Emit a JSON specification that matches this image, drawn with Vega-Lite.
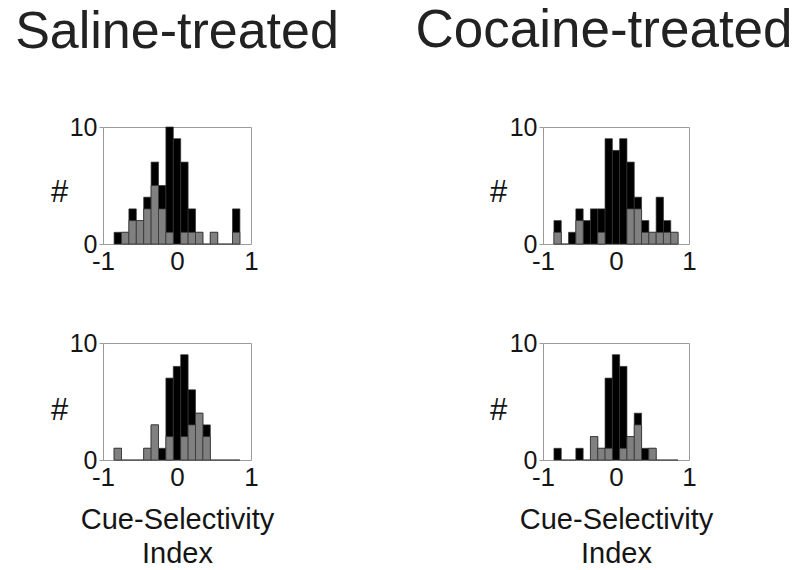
{
  "$schema": "https://vega.github.io/schema/vega-lite/v6.json",
  "background": "white",
  "padding": {"left": 14, "top": 4, "right": 5, "bottom": 5},
  "config": {
    "font": "Liberation Sans",
    "view": {"stroke": "#9a9a9a", "strokeWidth": 1},
    "axis": {"grid": false, "domain": false, "labelFont": "Liberation Sans", "titleFont": "Liberation Sans", "labelColor": "#151515", "titleColor": "#151515", "titleFontWeight": "normal", "tickColor": "#9a9a9a"}
  },
  "datasets": {
    "hist": [
      {"panel": "S1", "set": "total", "bin_start": -0.85, "bin_end": -0.75, "count": 1},
      {"panel": "S1", "set": "total", "bin_start": -0.75, "bin_end": -0.65, "count": 1},
      {"panel": "S1", "set": "total", "bin_start": -0.65, "bin_end": -0.55, "count": 3},
      {"panel": "S1", "set": "total", "bin_start": -0.55, "bin_end": -0.45, "count": 2},
      {"panel": "S1", "set": "total", "bin_start": -0.45, "bin_end": -0.35, "count": 4},
      {"panel": "S1", "set": "total", "bin_start": -0.35, "bin_end": -0.25, "count": 7},
      {"panel": "S1", "set": "total", "bin_start": -0.25, "bin_end": -0.15, "count": 5},
      {"panel": "S1", "set": "total", "bin_start": -0.15, "bin_end": -0.05, "count": 10},
      {"panel": "S1", "set": "total", "bin_start": -0.05, "bin_end": 0.05, "count": 9},
      {"panel": "S1", "set": "total", "bin_start": 0.05, "bin_end": 0.15, "count": 7},
      {"panel": "S1", "set": "total", "bin_start": 0.15, "bin_end": 0.25, "count": 3},
      {"panel": "S1", "set": "total", "bin_start": 0.25, "bin_end": 0.35, "count": 1},
      {"panel": "S1", "set": "total", "bin_start": 0.35, "bin_end": 0.45, "count": 0},
      {"panel": "S1", "set": "total", "bin_start": 0.45, "bin_end": 0.55, "count": 1},
      {"panel": "S1", "set": "total", "bin_start": 0.55, "bin_end": 0.65, "count": 0},
      {"panel": "S1", "set": "total", "bin_start": 0.65, "bin_end": 0.75, "count": 0},
      {"panel": "S1", "set": "total", "bin_start": 0.75, "bin_end": 0.85, "count": 3},
      {"panel": "S1", "set": "subset", "bin_start": -0.75, "bin_end": -0.65, "count": 1},
      {"panel": "S1", "set": "subset", "bin_start": -0.65, "bin_end": -0.55, "count": 2},
      {"panel": "S1", "set": "subset", "bin_start": -0.55, "bin_end": -0.45, "count": 2},
      {"panel": "S1", "set": "subset", "bin_start": -0.45, "bin_end": -0.35, "count": 3},
      {"panel": "S1", "set": "subset", "bin_start": -0.35, "bin_end": -0.25, "count": 5},
      {"panel": "S1", "set": "subset", "bin_start": -0.25, "bin_end": -0.15, "count": 3},
      {"panel": "S1", "set": "subset", "bin_start": -0.15, "bin_end": -0.05, "count": 1},
      {"panel": "S1", "set": "subset", "bin_start": 0.05, "bin_end": 0.15, "count": 1},
      {"panel": "S1", "set": "subset", "bin_start": 0.15, "bin_end": 0.25, "count": 1},
      {"panel": "S1", "set": "subset", "bin_start": 0.25, "bin_end": 0.35, "count": 1},
      {"panel": "S1", "set": "subset", "bin_start": 0.45, "bin_end": 0.55, "count": 1},
      {"panel": "S1", "set": "subset", "bin_start": 0.75, "bin_end": 0.85, "count": 1},

      {"panel": "C1", "set": "total", "bin_start": -0.85, "bin_end": -0.75, "count": 2},
      {"panel": "C1", "set": "total", "bin_start": -0.75, "bin_end": -0.65, "count": 0},
      {"panel": "C1", "set": "total", "bin_start": -0.65, "bin_end": -0.55, "count": 1},
      {"panel": "C1", "set": "total", "bin_start": -0.55, "bin_end": -0.45, "count": 3},
      {"panel": "C1", "set": "total", "bin_start": -0.45, "bin_end": -0.35, "count": 2},
      {"panel": "C1", "set": "total", "bin_start": -0.35, "bin_end": -0.25, "count": 3},
      {"panel": "C1", "set": "total", "bin_start": -0.25, "bin_end": -0.15, "count": 3},
      {"panel": "C1", "set": "total", "bin_start": -0.15, "bin_end": -0.05, "count": 9},
      {"panel": "C1", "set": "total", "bin_start": -0.05, "bin_end": 0.05, "count": 8},
      {"panel": "C1", "set": "total", "bin_start": 0.05, "bin_end": 0.15, "count": 9},
      {"panel": "C1", "set": "total", "bin_start": 0.15, "bin_end": 0.25, "count": 7},
      {"panel": "C1", "set": "total", "bin_start": 0.25, "bin_end": 0.35, "count": 4},
      {"panel": "C1", "set": "total", "bin_start": 0.35, "bin_end": 0.45, "count": 2},
      {"panel": "C1", "set": "total", "bin_start": 0.45, "bin_end": 0.55, "count": 1},
      {"panel": "C1", "set": "total", "bin_start": 0.55, "bin_end": 0.65, "count": 4},
      {"panel": "C1", "set": "total", "bin_start": 0.65, "bin_end": 0.75, "count": 2},
      {"panel": "C1", "set": "total", "bin_start": 0.75, "bin_end": 0.85, "count": 1},
      {"panel": "C1", "set": "subset", "bin_start": -0.85, "bin_end": -0.75, "count": 1},
      {"panel": "C1", "set": "subset", "bin_start": -0.55, "bin_end": -0.45, "count": 2},
      {"panel": "C1", "set": "subset", "bin_start": -0.25, "bin_end": -0.15, "count": 1},
      {"panel": "C1", "set": "subset", "bin_start": 0.15, "bin_end": 0.25, "count": 3},
      {"panel": "C1", "set": "subset", "bin_start": 0.25, "bin_end": 0.35, "count": 3},
      {"panel": "C1", "set": "subset", "bin_start": 0.35, "bin_end": 0.45, "count": 1},
      {"panel": "C1", "set": "subset", "bin_start": 0.45, "bin_end": 0.55, "count": 1},
      {"panel": "C1", "set": "subset", "bin_start": 0.55, "bin_end": 0.65, "count": 1},
      {"panel": "C1", "set": "subset", "bin_start": 0.65, "bin_end": 0.75, "count": 1},
      {"panel": "C1", "set": "subset", "bin_start": 0.75, "bin_end": 0.85, "count": 1},

      {"panel": "S2", "set": "total", "bin_start": -0.85, "bin_end": -0.75, "count": 1},
      {"panel": "S2", "set": "total", "bin_start": -0.75, "bin_end": -0.65, "count": 0},
      {"panel": "S2", "set": "total", "bin_start": -0.65, "bin_end": -0.55, "count": 0},
      {"panel": "S2", "set": "total", "bin_start": -0.55, "bin_end": -0.45, "count": 0},
      {"panel": "S2", "set": "total", "bin_start": -0.45, "bin_end": -0.35, "count": 1},
      {"panel": "S2", "set": "total", "bin_start": -0.35, "bin_end": -0.25, "count": 3},
      {"panel": "S2", "set": "total", "bin_start": -0.25, "bin_end": -0.15, "count": 1},
      {"panel": "S2", "set": "total", "bin_start": -0.15, "bin_end": -0.05, "count": 7},
      {"panel": "S2", "set": "total", "bin_start": -0.05, "bin_end": 0.05, "count": 8},
      {"panel": "S2", "set": "total", "bin_start": 0.05, "bin_end": 0.15, "count": 9},
      {"panel": "S2", "set": "total", "bin_start": 0.15, "bin_end": 0.25, "count": 6},
      {"panel": "S2", "set": "total", "bin_start": 0.25, "bin_end": 0.35, "count": 4},
      {"panel": "S2", "set": "total", "bin_start": 0.35, "bin_end": 0.45, "count": 3},
      {"panel": "S2", "set": "total", "bin_start": 0.45, "bin_end": 0.55, "count": 0},
      {"panel": "S2", "set": "total", "bin_start": 0.55, "bin_end": 0.65, "count": 0},
      {"panel": "S2", "set": "total", "bin_start": 0.65, "bin_end": 0.75, "count": 0},
      {"panel": "S2", "set": "total", "bin_start": 0.75, "bin_end": 0.85, "count": 0},
      {"panel": "S2", "set": "subset", "bin_start": -0.85, "bin_end": -0.75, "count": 1},
      {"panel": "S2", "set": "subset", "bin_start": -0.45, "bin_end": -0.35, "count": 1},
      {"panel": "S2", "set": "subset", "bin_start": -0.35, "bin_end": -0.25, "count": 3},
      {"panel": "S2", "set": "subset", "bin_start": -0.15, "bin_end": -0.05, "count": 2},
      {"panel": "S2", "set": "subset", "bin_start": 0.05, "bin_end": 0.15, "count": 2},
      {"panel": "S2", "set": "subset", "bin_start": 0.15, "bin_end": 0.25, "count": 3},
      {"panel": "S2", "set": "subset", "bin_start": 0.25, "bin_end": 0.35, "count": 4},
      {"panel": "S2", "set": "subset", "bin_start": 0.35, "bin_end": 0.45, "count": 2},

      {"panel": "C2", "set": "total", "bin_start": -0.85, "bin_end": -0.75, "count": 1},
      {"panel": "C2", "set": "total", "bin_start": -0.75, "bin_end": -0.65, "count": 0},
      {"panel": "C2", "set": "total", "bin_start": -0.65, "bin_end": -0.55, "count": 0},
      {"panel": "C2", "set": "total", "bin_start": -0.55, "bin_end": -0.45, "count": 1},
      {"panel": "C2", "set": "total", "bin_start": -0.45, "bin_end": -0.35, "count": 0},
      {"panel": "C2", "set": "total", "bin_start": -0.35, "bin_end": -0.25, "count": 2},
      {"panel": "C2", "set": "total", "bin_start": -0.25, "bin_end": -0.15, "count": 1},
      {"panel": "C2", "set": "total", "bin_start": -0.15, "bin_end": -0.05, "count": 7},
      {"panel": "C2", "set": "total", "bin_start": -0.05, "bin_end": 0.05, "count": 9},
      {"panel": "C2", "set": "total", "bin_start": 0.05, "bin_end": 0.15, "count": 8},
      {"panel": "C2", "set": "total", "bin_start": 0.15, "bin_end": 0.25, "count": 2},
      {"panel": "C2", "set": "total", "bin_start": 0.25, "bin_end": 0.35, "count": 4},
      {"panel": "C2", "set": "total", "bin_start": 0.35, "bin_end": 0.45, "count": 1},
      {"panel": "C2", "set": "total", "bin_start": 0.45, "bin_end": 0.55, "count": 1},
      {"panel": "C2", "set": "total", "bin_start": 0.55, "bin_end": 0.65, "count": 0},
      {"panel": "C2", "set": "total", "bin_start": 0.65, "bin_end": 0.75, "count": 0},
      {"panel": "C2", "set": "total", "bin_start": 0.75, "bin_end": 0.85, "count": 0},
      {"panel": "C2", "set": "subset", "bin_start": -0.35, "bin_end": -0.25, "count": 2},
      {"panel": "C2", "set": "subset", "bin_start": -0.25, "bin_end": -0.15, "count": 1},
      {"panel": "C2", "set": "subset", "bin_start": -0.15, "bin_end": -0.05, "count": 1},
      {"panel": "C2", "set": "subset", "bin_start": 0.05, "bin_end": 0.15, "count": 1},
      {"panel": "C2", "set": "subset", "bin_start": 0.15, "bin_end": 0.25, "count": 2},
      {"panel": "C2", "set": "subset", "bin_start": 0.25, "bin_end": 0.35, "count": 3},
      {"panel": "C2", "set": "subset", "bin_start": 0.45, "bin_end": 0.55, "count": 1}
    ]
  },
  "columns": 2,
  "spacing": {"row": 99, "column": 292},
  "bounds": "flush",
  "concat": [
    {
      "width": 148, "height": 117,
      "title": {"text": "Saline-treated", "fontSize": 52, "fontWeight": "normal", "color": "#222", "frame": "group", "anchor": "middle", "baseline": "alphabetic", "offset": 15},
      "data": {"name": "hist"},
      "transform": [{"filter": "datum.panel == 'S1'"}],
      "mark": {"type": "bar", "stroke": "#303030", "strokeWidth": 0.7},
      "encoding": {
        "x": {"field": "bin_start", "type": "quantitative", "scale": {"domain": [-1, 1], "nice": false}, "axis": {"values": [-1, 0, 1], "labelExpr": "'' + datum.value", "labelFontSize": 26, "labelFlush": false, "ticks": false, "labelPadding": 4, "title": null}},
        "x2": {"field": "bin_end"},
        "y": {"field": "count", "type": "quantitative", "scale": {"domain": [0, 10], "nice": false}, "axis": {"values": [0, 10], "labelFontSize": 25, "tickSize": 4, "labelPadding": 2, "title": "#", "titleFontSize": 31, "titleAngle": 0, "titleAlign": "center", "titleBaseline": "middle", "titleX": -44, "titleY": 65}},
        "y2": {"datum": 0},
        "color": {"field": "set", "type": "nominal", "scale": {"domain": ["total", "subset"], "range": ["#000000", "#808080"]}, "legend": null}
      }
    },
    {
      "width": 146, "height": 117,
      "title": {"text": "Cocaine-treated", "fontSize": 53, "fontWeight": "normal", "color": "#222", "frame": "group", "anchor": "middle", "baseline": "alphabetic", "offset": 15, "dx": -12},
      "data": {"name": "hist"},
      "transform": [{"filter": "datum.panel == 'C1'"}],
      "mark": {"type": "bar", "stroke": "#303030", "strokeWidth": 0.7},
      "encoding": {
        "x": {"field": "bin_start", "type": "quantitative", "scale": {"domain": [-1, 1], "nice": false}, "axis": {"values": [-1, 0, 1], "labelExpr": "'' + datum.value", "labelFontSize": 26, "labelFlush": false, "ticks": false, "labelPadding": 4, "title": null}},
        "x2": {"field": "bin_end"},
        "y": {"field": "count", "type": "quantitative", "scale": {"domain": [0, 10], "nice": false}, "axis": {"values": [0, 10], "labelFontSize": 25, "tickSize": 4, "labelPadding": 2, "title": "#", "titleFontSize": 31, "titleAngle": 0, "titleAlign": "center", "titleBaseline": "middle", "titleX": -45, "titleY": 65}},
        "y2": {"datum": 0},
        "color": {"field": "set", "type": "nominal", "scale": {"domain": ["total", "subset"], "range": ["#000000", "#808080"]}, "legend": null}
      }
    },
    {
      "width": 148, "height": 117,
      "data": {"name": "hist"},
      "transform": [{"filter": "datum.panel == 'S2'"}],
      "mark": {"type": "bar", "stroke": "#303030", "strokeWidth": 0.7},
      "encoding": {
        "x": {"field": "bin_start", "type": "quantitative", "scale": {"domain": [-1, 1], "nice": false}, "axis": {"values": [-1, 0, 1], "labelExpr": "'' + datum.value", "labelFontSize": 26, "labelFlush": false, "ticks": false, "labelPadding": 4, "title": ["Cue-Selectivity", "Index"], "titleFontSize": 29, "titleLineHeight": 34, "titlePadding": 15}},
        "x2": {"field": "bin_end"},
        "y": {"field": "count", "type": "quantitative", "scale": {"domain": [0, 10], "nice": false}, "axis": {"values": [0, 10], "labelFontSize": 25, "tickSize": 4, "labelPadding": 2, "title": "#", "titleFontSize": 31, "titleAngle": 0, "titleAlign": "center", "titleBaseline": "middle", "titleX": -44, "titleY": 67}},
        "y2": {"datum": 0},
        "color": {"field": "set", "type": "nominal", "scale": {"domain": ["total", "subset"], "range": ["#000000", "#808080"]}, "legend": null}
      }
    },
    {
      "width": 146, "height": 117,
      "data": {"name": "hist"},
      "transform": [{"filter": "datum.panel == 'C2'"}],
      "mark": {"type": "bar", "stroke": "#303030", "strokeWidth": 0.7},
      "encoding": {
        "x": {"field": "bin_start", "type": "quantitative", "scale": {"domain": [-1, 1], "nice": false}, "axis": {"values": [-1, 0, 1], "labelExpr": "'' + datum.value", "labelFontSize": 26, "labelFlush": false, "ticks": false, "labelPadding": 4, "title": ["Cue-Selectivity", "Index"], "titleFontSize": 29, "titleLineHeight": 34, "titlePadding": 15}},
        "x2": {"field": "bin_end"},
        "y": {"field": "count", "type": "quantitative", "scale": {"domain": [0, 10], "nice": false}, "axis": {"values": [0, 10], "labelFontSize": 25, "tickSize": 4, "labelPadding": 2, "title": "#", "titleFontSize": 31, "titleAngle": 0, "titleAlign": "center", "titleBaseline": "middle", "titleX": -45, "titleY": 67}},
        "y2": {"datum": 0},
        "color": {"field": "set", "type": "nominal", "scale": {"domain": ["total", "subset"], "range": ["#000000", "#808080"]}, "legend": null}
      }
    }
  ]
}
